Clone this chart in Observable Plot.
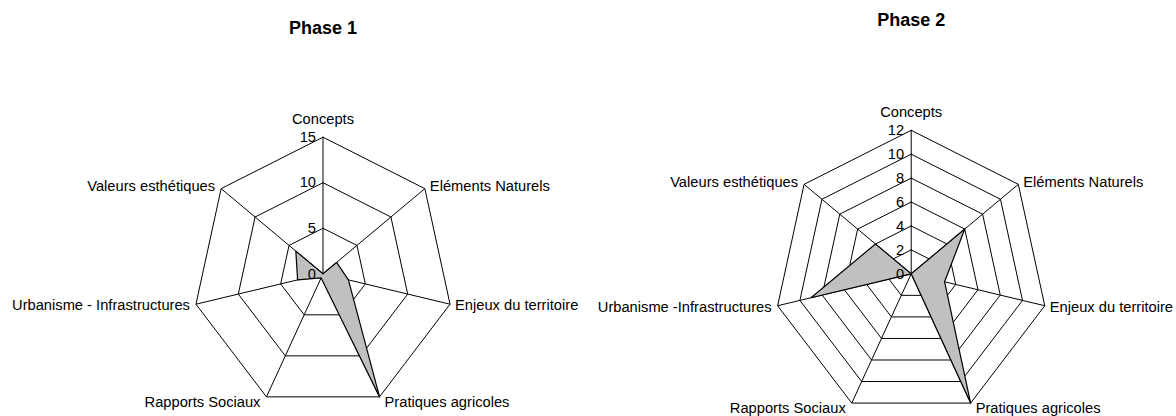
<!DOCTYPE html>
<html>
<head>
<meta charset="utf-8">
<script src="https://cdn.jsdelivr.net/npm/d3@7"></script>
<script src="https://cdn.jsdelivr.net/npm/@observablehq/plot@0.6"></script>
<style>
  html, body { margin: 0; padding: 0; background: #fff; }
  #wrap { display: flex; width: 1176px; height: 416px; }
</style>
</head>
<body>
<div id="wrap"></div>
<script>
// ---- data ----
const categoriesPhase1 = ["Concepts", "Eléments Naturels", "Enjeux du territoire", "Pratiques agricoles", "Rapports Sociaux", "Urbanisme - Infrastructures", "Valeurs esthétiques"];
const categoriesPhase2 = ["Concepts", "Eléments Naturels", "Enjeux du territoire", "Pratiques agricoles", "Rapports Sociaux", "Urbanisme -Infrastructures", "Valeurs esthétiques"];
const valuesPhase1 = [0, 2, 3, 15, 0.5, 3, 4];
const valuesPhase2 = [0, 6, 3, 12, 0, 9, 4];
const ticksPhase1 = [0, 5, 10, 15];
const ticksPhase2 = [0, 2, 4, 6, 8, 10, 12];
const titles = ["Phase 1", "Phase 2"];

const FONT = "'Liberation Sans', Arial, Helvetica, sans-serif";

function radar({categories, values, ticks, title, cx, cy, kx, ky, titleY, W, H}) {
  const n = categories.length;
  const max = d3.max(ticks);
  const ang = i => (i % n) * 2 * Math.PI / n;
  const pt = (v, i) => ({x: v * Math.sin(ang(i)), y: v * Math.cos(ang(i))});
  const rings = ticks.filter(t => t > 0).flatMap(t => d3.range(n + 1).map(i => ({ring: t, ...pt(t, i)})));
  const spokes = categories.map((c, i) => pt(max, i));
  const poly = d3.range(n + 1).map(i => pt(values[i % n], i));
  const labelMarks = categories.map((c, i) => {
    const s = Math.sin(ang(i)), co = Math.cos(ang(i));
    const anchor = Math.abs(s) < 1e-6 ? "middle" : s > 0 ? "start" : "end";
    const dx = anchor === "middle" ? 0 : (s > 0 ? 5 : -6);
    const dy = co > 0.9 ? -18 : co > 0.3 ? -2 : co > -0.5 ? 1.5 : 5.5;
    return Plot.text([{label: c, ...pt(max, i)}], {x: "x", y: "y", text: "label", textAnchor: anchor, dx, dy, lineAnchor: "middle", fill: "black"});
  });
  return Plot.plot({
    width: W, height: H,
    marginTop: 0, marginBottom: 0, marginLeft: 0, marginRight: 0,
    x: {axis: null, domain: [-cx / kx, (W - cx) / kx]},
    y: {axis: null, domain: [-(H - cy) / ky, cy / ky]},
    style: {fontFamily: FONT, fontSize: "14.7px", background: "white", overflow: "visible", color: "black"},
    marks: [
      Plot.line(rings, {x: "x", y: "y", z: "ring", stroke: "black", strokeWidth: 1, curve: "linear"}),
      Plot.link(spokes, {x1: () => 0, y1: () => 0, x2: "x", y2: "y", stroke: "black", strokeWidth: 1}),
      Plot.line(poly, {x: "x", y: "y", fill: "#c0c0c0", stroke: "black", strokeWidth: 1.2, curve: "linear"}),
      Plot.text(ticks, {x: () => 0, y: d => d, text: d => String(d), textAnchor: "end", dx: -7, lineAnchor: "middle", fill: "black"}),
      ...labelMarks,
      Plot.text([title], {x: () => 0, frameAnchor: "top", dy: titleY, text: d => d, fontWeight: "bold", fontSize: 18, lineAnchor: "middle", fill: "black"})
    ]
  });
}

const wrap = document.getElementById("wrap");
wrap.append(radar({categories: categoriesPhase1, values: valuesPhase1, ticks: ticksPhase1, title: titles[0],
  cx: 322.5, cy: 273.3, kx: 130.3 / 15, ky: 136.6 / 15, titleY: 28, W: 588, H: 416}));
wrap.append(radar({categories: categoriesPhase2, values: valuesPhase2, ticks: ticksPhase2, title: titles[1],
  cx: 322.7, cy: 273.3, kx: 137 / 12, ky: 143.5 / 12, titleY: 20, W: 588, H: 416}));
</script>
</body>
</html>
